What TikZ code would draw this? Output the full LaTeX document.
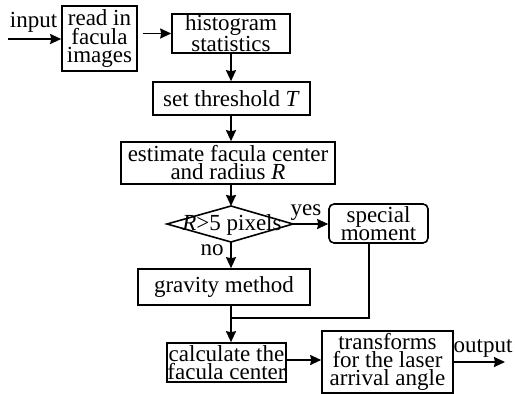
\documentclass[tikz,border=0pt]{standalone}
\usepackage{fontspec}
\setmainfont{Liberation Serif}
\usetikzlibrary{arrows.meta}
\begin{document}
\begin{tikzpicture}[x=1pt,y=-1pt,
  every node/.style={font=\fontsize{23}{18}\selectfont, inner sep=0pt},
  box/.style={draw, line width=1.6pt, align=center},
  rbox/.style={box, rounded corners=5pt},
  lbl/.style={anchor=base},
  flow/.style={line width=1.7pt, -{Stealth[length=11pt,width=10pt,inset=1pt]}},
  line/.style={line width=1.7pt}]
\useasboundingbox (0,0) rectangle (515,394);
% boxes
\node[box, minimum width=75pt, minimum height=65pt] (read) at (99.5,38.5) {read in\\facula\\images};
\node[box, minimum width=118pt, minimum height=39pt] (hist) at (231,33.5) {histogram\\statistics};
\node[box, minimum width=157pt, minimum height=33pt] (thr) at (231.5,98.5) {set threshold \textit{T}};
\node[box, minimum width=214pt, minimum height=42pt] (est) at (228,163) {estimate facula center\\and radius \textit{R}};
% decision diamond
\coordinate (dl) at (167,224);
\coordinate (dr) at (293,224);
\coordinate (dt) at (231,206);
\coordinate (db) at (231,242);
\draw[line width=1.6pt] (dl) -- (dt) -- (dr) -- (db) -- cycle;
\node (dec) at (232,225) {\textit{R}>5 pixels};
\node[rbox, minimum width=99pt, minimum height=39pt] (spec) at (378.5,223.5) {special\\moment};
\node[box, minimum width=172pt, minimum height=36pt] (grav) at (224,287) {gravity method};
\node[box, minimum width=119pt, minimum height=39pt] (calc) at (226.5,362.5) {calculate the\\facula center};
\node[box, minimum width=131pt, minimum height=62pt] (trans) at (387.5,362) {transforms\\for the laser\\arrival angle};
% labels
\node[lbl] (inlbl) at (33.5,27) {input};
\node[lbl] (yes) at (306,215) {yes};
\node[lbl] (no) at (212,255) {no};
\node[lbl] (outlbl) at (483,352) {output};
% connectors
\coordinate (inS) at (8,39);
\coordinate (outE) at (505,362);
\coordinate (join) at (231,318);
\draw[flow] (inS) -- (inS -| read.west);
\draw[flow, shorten <=5pt] (read.east |- hist.west) -- (hist.west);
\draw[flow] (hist.south) -- (hist.south |- thr.north);
\draw[flow] (hist.south |- thr.south) -- (hist.south |- est.north);
\draw[flow] (hist.south |- est.south) -- (dt);
\draw[flow] (dr) -- (dr -| spec.west);
\draw[flow] (db) -- (db |- grav.north);
\draw[line] (spec.south -| 369,0) -- (369,318) -- (join);
\draw[flow] (hist.south |- grav.south) -- (hist.south |- calc.north);
\draw[flow] (calc.east |- 0,360) -- (trans.west |- 0,360);
\draw[flow] (trans.east |- outE) -- (outE);
\end{tikzpicture}
\end{document}
